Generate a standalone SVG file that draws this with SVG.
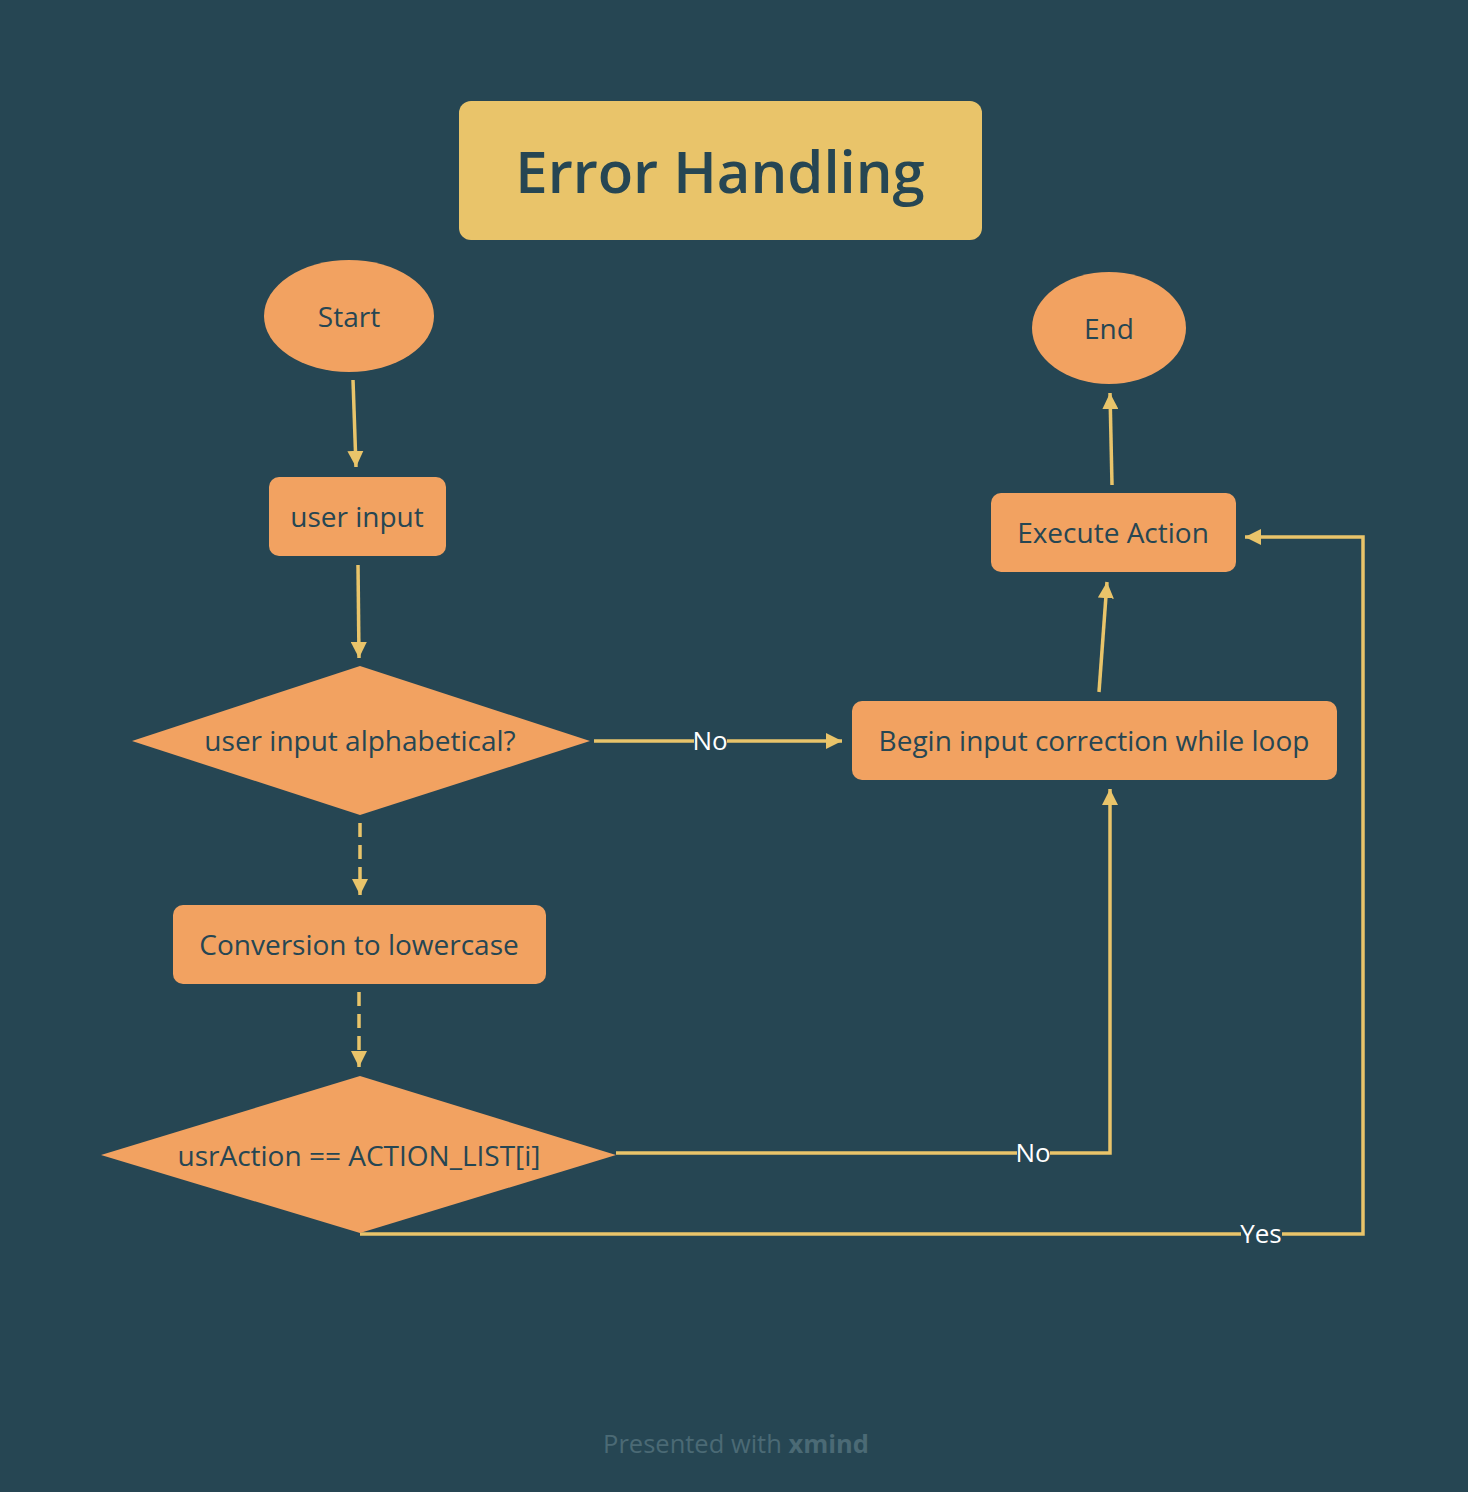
<svg xmlns="http://www.w3.org/2000/svg" width="1468" height="1492" viewBox="0 0 1468 1492">
<style>
.bg{fill:#264653}
.node{fill:#F2A261}
.lbl{font-family:"Open Sans",Lato,sans-serif;font-size:28px;font-weight:500;fill:#264653;text-anchor:middle;dominant-baseline:central}
.conn{stroke:#E9C46A;stroke-width:3.5;fill:none}
.dash{stroke-dasharray:14 8}
.elbl{font-family:"Open Sans",Lato,sans-serif;font-size:26px;fill:#ffffff;text-anchor:middle;dominant-baseline:central}
.elbg{fill:#264653}
</style>
<defs>
<marker id="arr" viewBox="0 0 10 10" refX="10" refY="5" markerWidth="4.6" markerHeight="4.6" orient="auto" markerUnits="strokeWidth">
<path d="M0,0 L10,5 L0,10 z" fill="#E9C46A"/>
</marker>
</defs>
<rect class="bg" x="0" y="0" width="1468" height="1492"/>

<g id="title">
<rect x="459" y="101" width="523" height="139" rx="12" fill="#E9C46A"/>
<text x="720" y="170" font-family="'Open Sans',Lato,sans-serif" font-size="58" font-weight="600" fill="#264653" text-anchor="middle" dominant-baseline="central">Error Handling</text>
</g>

<g id="connectors">
<line class="conn" x1="353" y1="380" x2="356" y2="467" marker-end="url(#arr)"/>
<line class="conn" x1="358" y1="565" x2="359" y2="658" marker-end="url(#arr)"/>
<line class="conn dash" x1="360" y1="823" x2="360" y2="895" marker-end="url(#arr)"/>
<line class="conn dash" x1="359" y1="992" x2="359" y2="1067" marker-end="url(#arr)"/>
<line class="conn" x1="594" y1="741" x2="842" y2="741" marker-end="url(#arr)"/>
<polyline class="conn" points="616,1153 1110,1153 1110,789" marker-end="url(#arr)"/>
<polyline class="conn" points="360,1234 1363,1234 1363,537 1245,537" marker-end="url(#arr)"/>
<line class="conn" x1="1099" y1="692" x2="1107" y2="582" marker-end="url(#arr)"/>
<line class="conn" x1="1112" y1="485" x2="1110" y2="393" marker-end="url(#arr)"/>
<rect class="elbg" x="694" y="728" width="33" height="26"/>
<text class="elbl" x="710" y="740">No</text>
<rect class="elbg" x="1017" y="1140" width="33" height="26"/>
<text class="elbl" x="1033" y="1152">No</text>
<rect class="elbg" x="1241" y="1221" width="41" height="26"/>
<text class="elbl" x="1261" y="1233">Yes</text>
</g>

<g id="start">
<ellipse class="node" cx="349" cy="316" rx="85" ry="56"/>
<text class="lbl" x="349" y="316">Start</text>
</g>
<g id="user-input">
<rect class="node" x="269" y="477" width="177" height="79" rx="10"/>
<text class="lbl" x="357" y="516">user input</text>
</g>
<g id="alphabetical">
<polygon class="node" points="132,741 360,666 590,741 360,815"/>
<text class="lbl" x="360" y="740">user input alphabetical?</text>
</g>
<g id="lowercase">
<rect class="node" x="173" y="905" width="373" height="79" rx="10"/>
<text class="lbl" x="359" y="944">Conversion to lowercase</text>
</g>
<g id="action-check">
<polygon class="node" points="101,1155 360,1076 616,1155 360,1233"/>
<text class="lbl" x="359" y="1155">usrAction == ACTION_LIST[i]</text>
</g>
<g id="correction">
<rect class="node" x="852" y="701" width="485" height="79" rx="10"/>
<text class="lbl" x="1094" y="740">Begin input correction while loop</text>
</g>
<g id="execute">
<rect class="node" x="991" y="493" width="245" height="79" rx="10"/>
<text class="lbl" x="1113" y="532">Execute Action</text>
</g>
<g id="end">
<ellipse class="node" cx="1109" cy="328" rx="77" ry="56"/>
<text class="lbl" x="1109" y="328">End</text>
</g>

<text x="736" y="1443" font-family="'Open Sans',Lato,sans-serif" font-size="25.5" fill="#4B6A75" text-anchor="middle" dominant-baseline="central">Presented with <tspan font-weight="bold">xmind</tspan></text>
</svg>
